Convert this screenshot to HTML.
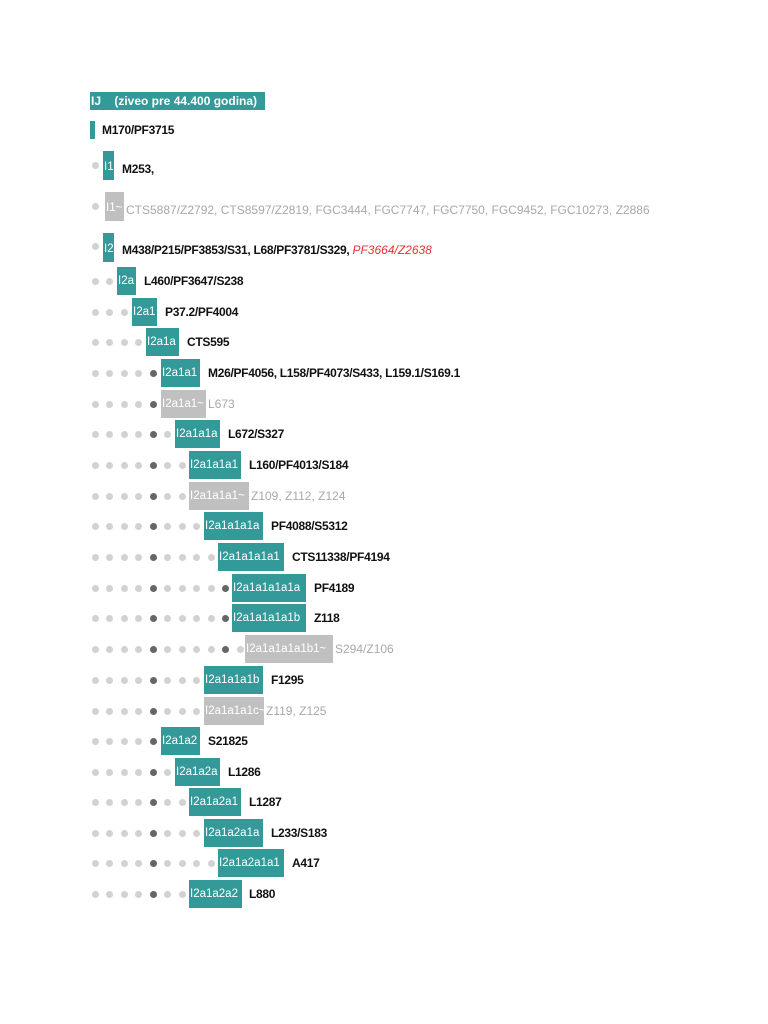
<!DOCTYPE html>
<html><head><meta charset="utf-8"><style>
body{margin:0;width:768px;height:1024px;background:#fff;position:relative;font-family:"Liberation Sans",sans-serif;overflow:hidden}
.b{position:absolute;height:28px;line-height:28px;color:#fff;font-size:11.5px;white-space:nowrap;overflow:hidden;background:#339999;box-sizing:border-box;padding-left:1px}
.g{background:#c0c0c0}
.t{position:absolute;font-size:12px;letter-spacing:-0.3px;font-weight:bold;color:#111;white-space:nowrap;line-height:16px}
.tg{font-weight:normal;color:#a8a8a8;letter-spacing:0}
.d{position:absolute;width:7px;height:7px;border-radius:50%;background:#d2d2d2}
.k{background:#666}
</style></head><body>
<div class="b" style="left:90px;top:92px;width:175px;height:18px;line-height:18px;font-weight:bold;font-size:12px">IJ&nbsp;&nbsp;&nbsp;&nbsp;(ziveo pre 44.400 godina)</div>
<div class="b" style="left:90px;top:121px;width:5px;height:18px"></div>
<div class="t" style="left:102px;top:122px">M170/PF3715</div>

<div class="d" style="left:92px;top:162px"></div>
<div class="b" style="left:103px;top:151px;width:11px;height:29px;line-height:32px">I1</div>
<div class="t" style="left:122px;top:161px">M253,</div>

<div class="d" style="left:92px;top:203px"></div>
<div class="b g" style="left:105px;top:192px;width:19px;height:29px;line-height:32px">I1~</div>
<div class="t tg" style="left:126px;top:202px">CTS5887/Z2792, CTS8597/Z2819, FGC3444, FGC7747, FGC7750, FGC9452, FGC10273, Z2886</div>

<div class="d" style="left:92px;top:243px"></div>
<div class="b" style="left:103px;top:233px;width:11px;height:29px;line-height:32px">I2</div>
<div class="t" style="left:122px;top:242px">M438/P215/PF3853/S31, L68/PF3781/S329, <span style="color:#e83030;font-style:italic;font-weight:normal;letter-spacing:0">PF3664/Z2638</span></div>

<div class="d" style="left:92px;top:278px"></div><div class="d" style="left:106px;top:278px"></div>
<div class="b" style="left:117px;top:267px;width:19px">I2a</div><div class="t" style="left:144px;top:273px">L460/PF3647/S238</div>

<div class="d" style="left:92px;top:309px"></div><div class="d" style="left:106px;top:309px"></div><div class="d" style="left:121px;top:309px"></div>
<div class="b" style="left:132px;top:298px;width:25px">I2a1</div><div class="t" style="left:165px;top:304px">P37.2/PF4004</div>

<div class="d" style="left:92px;top:339px"></div><div class="d" style="left:106px;top:339px"></div><div class="d" style="left:121px;top:339px"></div><div class="d" style="left:135px;top:339px"></div>
<div class="b" style="left:146px;top:328px;width:33px">I2a1a</div><div class="t" style="left:187px;top:334px">CTS595</div>

<div class="d" style="left:92px;top:370px"></div><div class="d" style="left:106px;top:370px"></div><div class="d" style="left:121px;top:370px"></div><div class="d" style="left:135px;top:370px"></div><div class="d k" style="left:150px;top:370px"></div>
<div class="b" style="left:161px;top:359px;width:39px">I2a1a1</div><div class="t" style="left:208px;top:365px">M26/PF4056, L158/PF4073/S433, L159.1/S169.1</div>

<div class="d" style="left:92px;top:401px"></div><div class="d" style="left:106px;top:401px"></div><div class="d" style="left:121px;top:401px"></div><div class="d" style="left:135px;top:401px"></div><div class="d k" style="left:150px;top:401px"></div>
<div class="b g" style="left:161px;top:390px;width:45px">I2a1a1~</div><div class="t tg" style="left:208px;top:396px">L673</div>

<div class="d" style="left:92px;top:431px"></div><div class="d" style="left:106px;top:431px"></div><div class="d" style="left:121px;top:431px"></div><div class="d" style="left:135px;top:431px"></div><div class="d k" style="left:150px;top:431px"></div><div class="d" style="left:164px;top:431px"></div>
<div class="b" style="left:175px;top:420px;width:45px">I2a1a1a</div><div class="t" style="left:228px;top:426px">L672/S327</div>

<div class="d" style="left:92px;top:462px"></div><div class="d" style="left:106px;top:462px"></div><div class="d" style="left:121px;top:462px"></div><div class="d" style="left:135px;top:462px"></div><div class="d k" style="left:150px;top:462px"></div><div class="d" style="left:164px;top:462px"></div><div class="d" style="left:179px;top:462px"></div>
<div class="b" style="left:189px;top:451px;width:52px">I2a1a1a1</div><div class="t" style="left:249px;top:457px">L160/PF4013/S184</div>

<div class="d" style="left:92px;top:493px"></div><div class="d" style="left:106px;top:493px"></div><div class="d" style="left:121px;top:493px"></div><div class="d" style="left:135px;top:493px"></div><div class="d k" style="left:150px;top:493px"></div><div class="d" style="left:164px;top:493px"></div><div class="d" style="left:179px;top:493px"></div>
<div class="b g" style="left:189px;top:482px;width:60px">I2a1a1a1~</div><div class="t tg" style="left:251px;top:488px">Z109, Z112, Z124</div>

<div class="d" style="left:92px;top:523px"></div><div class="d" style="left:106px;top:523px"></div><div class="d" style="left:121px;top:523px"></div><div class="d" style="left:135px;top:523px"></div><div class="d k" style="left:150px;top:523px"></div><div class="d" style="left:164px;top:523px"></div><div class="d" style="left:179px;top:523px"></div><div class="d" style="left:193px;top:523px"></div>
<div class="b" style="left:204px;top:512px;width:59px">I2a1a1a1a</div><div class="t" style="left:271px;top:518px">PF4088/S5312</div>

<div class="d" style="left:92px;top:554px"></div><div class="d" style="left:106px;top:554px"></div><div class="d" style="left:121px;top:554px"></div><div class="d" style="left:135px;top:554px"></div><div class="d k" style="left:150px;top:554px"></div><div class="d" style="left:164px;top:554px"></div><div class="d" style="left:179px;top:554px"></div><div class="d" style="left:193px;top:554px"></div><div class="d" style="left:208px;top:554px"></div>
<div class="b" style="left:218px;top:543px;width:66px">I2a1a1a1a1</div><div class="t" style="left:292px;top:549px">CTS11338/PF4194</div>

<div class="d" style="left:92px;top:585px"></div><div class="d" style="left:106px;top:585px"></div><div class="d" style="left:121px;top:585px"></div><div class="d" style="left:135px;top:585px"></div><div class="d k" style="left:150px;top:585px"></div><div class="d" style="left:164px;top:585px"></div><div class="d" style="left:179px;top:585px"></div><div class="d" style="left:193px;top:585px"></div><div class="d" style="left:208px;top:585px"></div><div class="d k" style="left:222px;top:585px"></div>
<div class="b" style="left:232px;top:574px;width:74px">I2a1a1a1a1a</div><div class="t" style="left:314px;top:580px">PF4189</div>

<div class="d" style="left:92px;top:615px"></div><div class="d" style="left:106px;top:615px"></div><div class="d" style="left:121px;top:615px"></div><div class="d" style="left:135px;top:615px"></div><div class="d k" style="left:150px;top:615px"></div><div class="d" style="left:164px;top:615px"></div><div class="d" style="left:179px;top:615px"></div><div class="d" style="left:193px;top:615px"></div><div class="d" style="left:208px;top:615px"></div><div class="d k" style="left:222px;top:615px"></div>
<div class="b" style="left:232px;top:604px;width:74px">I2a1a1a1a1b</div><div class="t" style="left:314px;top:610px">Z118</div>

<div class="d" style="left:92px;top:646px"></div><div class="d" style="left:106px;top:646px"></div><div class="d" style="left:121px;top:646px"></div><div class="d" style="left:135px;top:646px"></div><div class="d k" style="left:150px;top:646px"></div><div class="d" style="left:164px;top:646px"></div><div class="d" style="left:179px;top:646px"></div><div class="d" style="left:193px;top:646px"></div><div class="d" style="left:208px;top:646px"></div><div class="d k" style="left:222px;top:646px"></div><div class="d" style="left:237px;top:646px"></div>
<div class="b g" style="left:245px;top:635px;width:88px">I2a1a1a1a1b1~</div><div class="t tg" style="left:335px;top:641px">S294/Z106</div>

<div class="d" style="left:92px;top:677px"></div><div class="d" style="left:106px;top:677px"></div><div class="d" style="left:121px;top:677px"></div><div class="d" style="left:135px;top:677px"></div><div class="d k" style="left:150px;top:677px"></div><div class="d" style="left:164px;top:677px"></div><div class="d" style="left:179px;top:677px"></div><div class="d" style="left:193px;top:677px"></div>
<div class="b" style="left:204px;top:666px;width:59px">I2a1a1a1b</div><div class="t" style="left:271px;top:672px">F1295</div>

<div class="d" style="left:92px;top:708px"></div><div class="d" style="left:106px;top:708px"></div><div class="d" style="left:121px;top:708px"></div><div class="d" style="left:135px;top:708px"></div><div class="d k" style="left:150px;top:708px"></div><div class="d" style="left:164px;top:708px"></div><div class="d" style="left:179px;top:708px"></div><div class="d" style="left:193px;top:708px"></div>
<div class="b g" style="left:204px;top:697px;width:60px">I2a1a1a1c~</div><div class="t tg" style="left:266px;top:703px">Z119, Z125</div>

<div class="d" style="left:92px;top:738px"></div><div class="d" style="left:106px;top:738px"></div><div class="d" style="left:121px;top:738px"></div><div class="d" style="left:135px;top:738px"></div><div class="d k" style="left:150px;top:738px"></div>
<div class="b" style="left:161px;top:727px;width:39px">I2a1a2</div><div class="t" style="left:208px;top:733px">S21825</div>

<div class="d" style="left:92px;top:769px"></div><div class="d" style="left:106px;top:769px"></div><div class="d" style="left:121px;top:769px"></div><div class="d" style="left:135px;top:769px"></div><div class="d k" style="left:150px;top:769px"></div><div class="d" style="left:164px;top:769px"></div>
<div class="b" style="left:175px;top:758px;width:45px">I2a1a2a</div><div class="t" style="left:228px;top:764px">L1286</div>

<div class="d" style="left:92px;top:799px"></div><div class="d" style="left:106px;top:799px"></div><div class="d" style="left:121px;top:799px"></div><div class="d" style="left:135px;top:799px"></div><div class="d k" style="left:150px;top:799px"></div><div class="d" style="left:164px;top:799px"></div><div class="d" style="left:179px;top:799px"></div>
<div class="b" style="left:189px;top:788px;width:52px">I2a1a2a1</div><div class="t" style="left:249px;top:794px">L1287</div>

<div class="d" style="left:92px;top:830px"></div><div class="d" style="left:106px;top:830px"></div><div class="d" style="left:121px;top:830px"></div><div class="d" style="left:135px;top:830px"></div><div class="d k" style="left:150px;top:830px"></div><div class="d" style="left:164px;top:830px"></div><div class="d" style="left:179px;top:830px"></div><div class="d" style="left:193px;top:830px"></div>
<div class="b" style="left:204px;top:819px;width:59px">I2a1a2a1a</div><div class="t" style="left:271px;top:825px">L233/S183</div>

<div class="d" style="left:92px;top:860px"></div><div class="d" style="left:106px;top:860px"></div><div class="d" style="left:121px;top:860px"></div><div class="d" style="left:135px;top:860px"></div><div class="d k" style="left:150px;top:860px"></div><div class="d" style="left:164px;top:860px"></div><div class="d" style="left:179px;top:860px"></div><div class="d" style="left:193px;top:860px"></div><div class="d" style="left:208px;top:860px"></div>
<div class="b" style="left:218px;top:849px;width:66px">I2a1a2a1a1</div><div class="t" style="left:292px;top:855px">A417</div>

<div class="d" style="left:92px;top:891px"></div><div class="d" style="left:106px;top:891px"></div><div class="d" style="left:121px;top:891px"></div><div class="d" style="left:135px;top:891px"></div><div class="d k" style="left:150px;top:891px"></div><div class="d" style="left:164px;top:891px"></div><div class="d" style="left:179px;top:891px"></div>
<div class="b" style="left:189px;top:880px;width:53px">I2a1a2a2</div><div class="t" style="left:249px;top:886px">L880</div>
</body></html>
